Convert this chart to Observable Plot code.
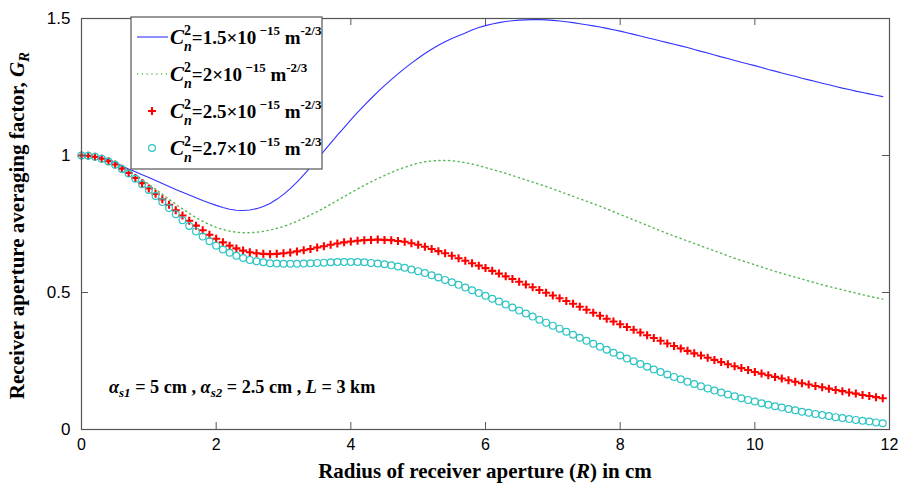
<!DOCTYPE html>
<html>
<head>
<meta charset="utf-8">
<script src="https://cdn.jsdelivr.net/npm/d3@7"></script>
<script src="https://cdn.jsdelivr.net/npm/@observablehq/plot@0.6"></script>
<style>
  html, body { margin: 0; padding: 0; background: #fff; }
  #chart { width: 898px; height: 492px; }
</style>
</head>
<body>
<div id="chart"></div>
<script>
// ---------- data ----------
const R = [0,0.1,0.2,0.3,0.4,0.5,0.6,0.7,0.8,0.9,1,1.1,1.2,1.3,1.4,1.5,1.6,1.7,1.8,1.9,
  2,2.1,2.2,2.3,2.4,2.5,2.6,2.7,2.8,2.9,3,3.1,3.2,3.3,3.4,3.5,3.6,3.7,3.8,3.9,
  4,4.1,4.2,4.3,4.4,4.5,4.6,4.7,4.8,4.9,5,5.1,5.2,5.3,5.4,5.5,5.6,5.7,5.8,5.9,
  6,6.1,6.2,6.3,6.4,6.5,6.6,6.7,6.8,6.9,7,7.1,7.2,7.3,7.4,7.5,7.6,7.7,7.8,7.9,
  8,8.1,8.2,8.3,8.4,8.5,8.6,8.7,8.8,8.9,9,9.1,9.2,9.3,9.4,9.5,9.6,9.7,9.8,9.9,
  10,10.1,10.2,10.3,10.4,10.5,10.6,10.7,10.8,10.9,11,11.1,11.2,11.3,11.4,11.5,11.6,11.7,11.8,11.9];

// Cn^2 = 1.5e-15
const G15 = [1.000,0.999,0.996,0.991,0.984,0.975,0.962,0.951,0.941,0.930,
  0.920,0.909,0.898,0.887,0.876,0.866,0.856,0.846,0.836,0.827,
  0.818,0.810,0.804,0.800,0.799,0.801,0.806,0.814,0.825,0.840,
  0.858,0.879,0.903,0.929,0.957,0.986,1.016,1.045,1.074,1.102,
  1.130,1.157,1.183,1.208,1.232,1.255,1.277,1.298,1.318,1.337,
  1.355,1.372,1.388,1.402,1.415,1.427,1.437,1.447,1.458,1.467,
  1.474,1.480,1.485,1.489,1.492,1.494,1.495,1.496,1.496,1.495,
  1.493,1.491,1.488,1.485,1.481,1.477,1.473,1.469,1.464,1.459,
  1.454,1.448,1.442,1.436,1.430,1.424,1.418,1.412,1.406,1.400,
  1.394,1.387,1.380,1.374,1.367,1.360,1.354,1.347,1.340,1.334,
  1.328,1.321,1.314,1.308,1.301,1.295,1.289,1.282,1.276,1.270,
  1.264,1.258,1.252,1.246,1.241,1.235,1.230,1.225,1.220,1.215];

// Cn^2 = 2e-15
const G20 = [1.000,0.999,0.996,0.990,0.982,0.972,0.960,0.946,0.930,0.913,
  0.895,0.877,0.859,0.840,0.822,0.805,0.789,0.773,0.760,0.748,
  0.738,0.730,0.724,0.720,0.718,0.718,0.720,0.723,0.728,0.734,
  0.741,0.750,0.760,0.771,0.783,0.795,0.808,0.822,0.836,0.850,
  0.864,0.878,0.891,0.904,0.916,0.927,0.938,0.948,0.957,0.965,
  0.972,0.977,0.980,0.982,0.982,0.981,0.978,0.974,0.969,0.963,
  0.956,0.949,0.942,0.935,0.927,0.919,0.911,0.903,0.895,0.887,
  0.878,0.869,0.860,0.851,0.842,0.833,0.824,0.815,0.805,0.795,
  0.785,0.775,0.765,0.755,0.745,0.735,0.725,0.715,0.706,0.697,
  0.688,0.679,0.670,0.661,0.652,0.643,0.634,0.625,0.617,0.609,
  0.601,0.593,0.585,0.577,0.570,0.563,0.556,0.549,0.542,0.535,
  0.528,0.522,0.516,0.510,0.504,0.498,0.492,0.486,0.481,0.476];

// Cn^2 = 2.5e-15
const G25 = [1.000,0.999,0.995,0.988,0.979,0.967,0.952,0.936,0.918,0.899,
  0.880,0.860,0.840,0.820,0.800,0.781,0.762,0.744,0.727,0.711,
  0.696,0.683,0.671,0.661,0.653,0.647,0.643,0.641,0.640,0.641,
  0.643,0.646,0.650,0.654,0.659,0.664,0.669,0.674,0.679,0.683,
  0.686,0.689,0.691,0.692,0.693,0.692,0.691,0.688,0.685,0.680,
  0.674,0.667,0.659,0.651,0.643,0.634,0.625,0.616,0.607,0.598,
  0.589,0.579,0.569,0.559,0.549,0.539,0.529,0.519,0.509,0.499,
  0.489,0.479,0.469,0.459,0.448,0.437,0.426,0.415,0.404,0.394,
  0.384,0.374,0.364,0.354,0.344,0.334,0.324,0.314,0.305,0.296,
  0.287,0.278,0.270,0.262,0.254,0.246,0.238,0.231,0.224,0.217,
  0.210,0.204,0.198,0.192,0.186,0.180,0.174,0.169,0.164,0.159,
  0.154,0.149,0.144,0.140,0.135,0.131,0.126,0.122,0.118,0.114];

// Cn^2 = 2.7e-15
const G27 = [1.000,0.999,0.995,0.988,0.978,0.966,0.951,0.934,0.915,0.895,
  0.874,0.852,0.830,0.808,0.786,0.764,0.743,0.723,0.704,0.687,
  0.671,0.657,0.645,0.634,0.626,0.619,0.614,0.610,0.607,0.606,
  0.605,0.605,0.605,0.606,0.607,0.608,0.609,0.610,0.611,0.611,
  0.611,0.611,0.610,0.608,0.606,0.603,0.599,0.595,0.590,0.584,
  0.578,0.571,0.563,0.555,0.546,0.537,0.528,0.518,0.508,0.498,
  0.488,0.477,0.467,0.456,0.445,0.434,0.423,0.412,0.401,0.390,
  0.379,0.368,0.357,0.346,0.335,0.324,0.313,0.302,0.291,0.280,
  0.270,0.259,0.249,0.239,0.229,0.219,0.210,0.201,0.192,0.183,
  0.174,0.166,0.158,0.150,0.142,0.135,0.128,0.121,0.114,0.108,
  0.102,0.096,0.090,0.085,0.080,0.075,0.070,0.065,0.061,0.057,
  0.053,0.049,0.045,0.042,0.038,0.035,0.032,0.029,0.026,0.023];

const xTicks = [0, 2, 4, 6, 8, 10, 12];
const xTickLabels = ["0", "2", "4", "6", "8", "10", "12"];
const yTicks = [0, 0.5, 1, 1.5];
const yTickLabels = ["0", "0.5", "1", "1.5"];

const seriesNames = ["1.5", "2", "2.5", "2.7"];

// ---------- build tables ----------
const rows = (vals) => R.map((r, i) => ({R: r, G: vals[i]}));
const d15 = rows(G15), d20 = rows(G20), d25 = rows(G25), d27 = rows(G27);

const W = 898, H = 492;
const mL = 81, mR = 9, mT = 18, mB = 63;
const frameW = W - mL - mR, frameH = H - mT - mB;
const tickLen = 7;
const frameColor = "#555";
const cBlue = "#3333ff", cGreen = "#55b855", cRed = "#ff0000", cCyan = "#2cc4c4";

const plusSymbol = {
  draw(ctx, size) {
    const h = Math.sqrt(size / Math.PI);
    ctx.moveTo(-h, 0); ctx.lineTo(h, 0);
    ctx.moveTo(0, -h); ctx.lineTo(0, h);
  }
};

const chart = Plot.plot({
  width: W, height: H,
  marginLeft: mL, marginRight: mR, marginTop: mT, marginBottom: mB,
  style: {fontFamily: "'Liberation Sans', Arial, sans-serif", fontSize: "16px", color: "#000", background: "#fff", overflow: "visible"},
  x: {domain: [0, 12]},
  y: {domain: [0, 1.5]},
  marks: [
    Plot.line(d15, {x: "R", y: "G", stroke: cBlue, strokeWidth: 1.1}),
    Plot.line(d20, {x: "R", y: "G", stroke: cGreen, strokeWidth: 1.4, strokeDasharray: "1.2,3.6"}),
    Plot.dot(d25, {x: "R", y: "G", symbol: plusSymbol, r: 4, stroke: cRed, strokeWidth: 2.1, fill: "none"}),
    Plot.dot(d27, {x: "R", y: "G", symbol: "circle", r: 3.4, stroke: cCyan, strokeWidth: 1.2, fill: "none"}),
    Plot.frame({stroke: frameColor, strokeWidth: 1.2}),
    // inward ticks on all four sides (MATLAB-style box)
    Plot.tickX(xTicks, {x: d => d, stroke: frameColor, insetTop: frameH - tickLen}),
    Plot.tickX(xTicks, {x: d => d, stroke: frameColor, insetBottom: frameH - tickLen}),
    Plot.tickY(yTicks, {y: d => d, stroke: frameColor, insetRight: frameW - tickLen}),
    Plot.tickY(yTicks, {y: d => d, stroke: frameColor, insetLeft: frameW - tickLen}),
    Plot.axisX({ticks: xTicks, tickSize: 0, tickPadding: 9, label: null, fontSize: 16,
      tickFormat: d => xTickLabels[xTicks.indexOf(d)]}),
    Plot.axisY({ticks: yTicks, tickSize: 0, tickPadding: 11, label: null, fontSize: 17,
      tickFormat: d => yTickLabels[yTicks.indexOf(d)]})
  ]
});

document.getElementById("chart").appendChild(chart);

// ---------- rich text helpers ----------
const svg = d3.select(chart);
const serif = "'Liberation Serif', 'Times New Roman', serif";

function rich(parent, x, y, segs, base) {
  const t = parent.append("text")
    .attr("x", x).attr("y", y)
    .attr("font-family", serif)
    .attr("font-weight", "bold")
    .attr("font-size", base.size)
    .attr("fill", "#000")
    .attr("text-anchor", base.anchor || "start");
  if (base.transform) t.attr("transform", base.transform);
  let cur = 0;
  for (const s of segs) {
    const shift = s.shift || 0;
    const ts = t.append("tspan").attr("dy", shift - cur).text(s.t);
    cur = shift;
    if (s.size) ts.attr("font-size", s.size);
    if (s.italic) ts.attr("font-style", "italic");
    if (s.dx) ts.attr("dx", s.dx);
  }
  return t;
}

// ---------- legend ----------
const lg = svg.append("g");
lg.append("rect").attr("x", 131).attr("y", mT - 1).attr("width", 191).attr("height", 152)
  .attr("fill", "#fff").attr("stroke", frameColor).attr("stroke-width", 1.2);

const rowY = [37, 74, 111, 148];
// sample glyphs
lg.append("line").attr("x1", 137).attr("x2", 168).attr("y1", rowY[0]).attr("y2", rowY[0])
  .attr("stroke", cBlue).attr("stroke-width", 1.1);
lg.append("line").attr("x1", 137).attr("x2", 168).attr("y1", rowY[1]).attr("y2", rowY[1])
  .attr("stroke", cGreen).attr("stroke-width", 1.4).attr("stroke-dasharray", "1.2,3.6");
lg.append("path").attr("d", `M${152 - 4},${rowY[2]}h8M152,${rowY[2] - 4}v8`)
  .attr("stroke", cRed).attr("stroke-width", 2.1).attr("fill", "none");
lg.append("circle").attr("cx", 152).attr("cy", rowY[3]).attr("r", 3.4)
  .attr("stroke", cCyan).attr("stroke-width", 1.2).attr("fill", "none");

seriesNames.forEach((v, i) => {
  rich(lg, 170, rowY[i] + 7, [
    {t: "C", italic: true, size: 21},
    {t: "2", size: 14, shift: -9},
    {t: "n", size: 14, italic: true, shift: 7, dx: -7},
    {t: "=" + v + "×10", shift: 0},
    {t: " −15", size: 13, shift: -9},
    {t: " m", shift: 0},
    {t: "-2/3", size: 13, shift: -9}
  ], {size: 19});
});

// ---------- annotation ----------
rich(svg, 109, 393, [
  {t: "α", italic: true},
  {t: "s1", italic: true, size: 13, shift: 4},
  {t: " = 5 cm , ", shift: 0},
  {t: "α", italic: true},
  {t: "s2", italic: true, size: 13, shift: 4},
  {t: " = 2.5 cm , ", shift: 0},
  {t: "L", italic: true},
  {t: " = 3 km"}
], {size: 18.2});

// ---------- axis titles ----------
rich(svg, mL + frameW / 2, 478, [
  {t: "Radius of receiver aperture ("},
  {t: "R", italic: true},
  {t: ") in cm"}
], {size: 21, anchor: "middle"});

rich(svg, 0, 0, [
  {t: "Receiver aperture averaging factor, "},
  {t: "G", italic: true},
  {t: "R", italic: true, size: 15, shift: 5}
], {size: 21, anchor: "middle", transform: `translate(24,${mT + frameH / 2 + 2}) rotate(-90)`});
</script>
</body>
</html>
